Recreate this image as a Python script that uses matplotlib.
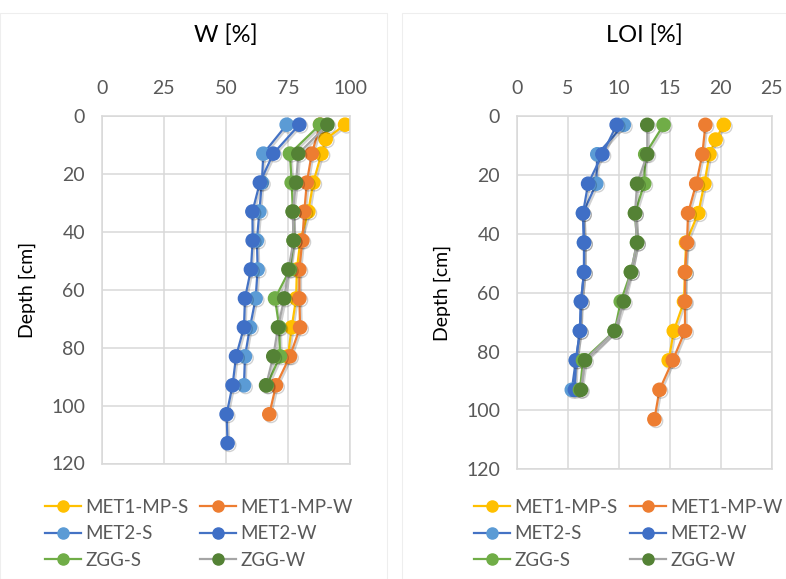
import matplotlib
matplotlib.use("Agg")
import matplotlib.pyplot as plt
from matplotlib.lines import Line2D
from matplotlib.patches import Rectangle
import matplotlib.patheffects as pe

plt.rcParams['font.family'] = ['Lato', 'DejaVu Sans']

series = ["MET1-MP-S", "MET1-MP-W", "MET2-S", "MET2-W", "ZGG-S", "ZGG-W"]
line_colors = ["#FFC000", "#ED7D31", "#4472C4", "#4472C4", "#70AD47", "#A5A5A5"]
marker_colors = ["#FFC000", "#ED7D31", "#5B9BD5", "#3F6FC6", "#70AD47", "#548235"]

# Water content W [%]
w_depth = {
    "MET1-MP-S": [3, 8, 13, 23, 33, 43, 53, 63, 73, 83],
    "MET1-MP-W": [3, 13, 23, 33, 43, 53, 63, 73, 83, 93, 103],
    "MET2-S": [3, 13, 23, 33, 43, 53, 63, 73, 83, 93],
    "MET2-W": [3, 13, 23, 33, 43, 53, 63, 73, 83, 93, 103, 113],
    "ZGG-S": [3, 13, 23, 33, 43, 53, 63, 73, 83, 93],
    "ZGG-W": [3, 13, 23, 33, 43, 53, 63, 73, 83, 93],
}
w_vals = {
    "MET1-MP-S": [98.0, 90.2, 88.5, 85.2, 83.2, 80.0, 78.6, 78.3, 76.5, 75.0],
    "MET1-MP-W": [88.0, 84.6, 82.6, 81.6, 80.8, 79.6, 79.6, 79.9, 75.8, 70.2, 67.5],
    "MET2-S": [74.5, 65.1, 64.5, 63.5, 62.5, 62.8, 62.0, 59.7, 57.7, 57.3],
    "MET2-W": [79.6, 69.1, 63.7, 60.7, 60.8, 60.1, 57.7, 57.3, 54.1, 52.7, 50.3, 50.7],
    "ZGG-S": [87.9, 75.8, 76.5, 77.0, 77.3, 75.8, 69.8, 71.5, 71.8, 66.5],
    "ZGG-W": [90.9, 79.2, 78.3, 76.9, 77.3, 75.2, 73.5, 71.0, 69.1, 66.2],
}

# Loss on ignition LOI [%]
loi_depth = {
    "MET1-MP-S": [3, 8, 13, 23, 33, 43, 53, 63, 73, 83],
    "MET1-MP-W": [3, 13, 23, 33, 43, 53, 63, 73, 83, 93, 103],
    "MET2-S": [3, 13, 23, 33, 43, 53, 63, 73, 83, 93],
    "MET2-W": [3, 13, 23, 33, 43, 53, 63, 73, 83, 93],
    "ZGG-S": [3, 13, 23, 33, 43, 53, 63, 73, 83, 93],
    "ZGG-W": [3, 13, 23, 33, 43, 53, 63, 73, 83, 93],
}
loi_vals = {
    "MET1-MP-S": [20.3, 19.5, 18.9, 18.4, 17.8, 16.6, 16.5, 16.4, 15.4, 14.9],
    "MET1-MP-W": [18.5, 18.2, 17.6, 16.8, 16.7, 16.5, 16.5, 16.5, 15.3, 14.0, 13.5],
    "MET2-S": [10.5, 7.9, 7.8, 6.5, 6.6, 6.6, 6.3, 6.2, 5.8, 5.4],
    "MET2-W": [9.8, 8.4, 7.0, 6.5, 6.6, 6.6, 6.3, 6.2, 5.8, 5.7],
    "ZGG-S": [14.4, 12.6, 12.5, 11.6, 11.8, 11.2, 10.2, 9.6, 6.5, 6.2],
    "ZGG-W": [12.8, 12.8, 11.8, 11.6, 11.8, 11.2, 10.5, 9.6, 6.7, 6.3],
}

w_ticks = [0, 25, 50, 75, 100]
loi_ticks = [0, 5, 10, 15, 20, 25]
depth_ticks = [0, 20, 40, 60, 80, 100, 120]

TXT = "#595959"
GRID = "#D9D9D9"
W, H = 786, 579

fig = plt.figure(figsize=(7.86, 5.79), dpi=100)

# faint chart borders
fig.patches.append(Rectangle((0.0, 0.0), 387 / W, 1 - 13 / H, transform=fig.transFigure,
                             fill=False, edgecolor="#EEEEEE", lw=0.8))
fig.patches.append(Rectangle((402 / W, 0.0), 1 - 402 / W, 1 - 13 / H, transform=fig.transFigure,
                             fill=False, edgecolor="#EEEEEE", lw=0.8))

ax1 = fig.add_axes([101.7 / W, 1 - 463.5 / H, 248.3 / W, 347.5 / H])
ax2 = fig.add_axes([516.7 / W, 1 - 469.3 / H, 255.0 / W, 353.3 / H])

shadow = [pe.SimpleLineShadow(offset=(1.2, -1.2), shadow_color="#000000", alpha=0.18), pe.Normal()]


def draw(ax, depth, vals, xticks, title, col_x):
    for s, lc, mc in zip(series, line_colors, marker_colors):
        ax.plot(vals[s], depth[s], color=lc, lw=1.6, marker="o", markersize=9.5,
                markerfacecolor=mc, markeredgecolor=mc, label=s, path_effects=shadow,
                solid_capstyle="round")
    ax.set_xlim(xticks[0], xticks[-1])
    ax.set_ylim(120, 0)
    ax.set_xticks(xticks)
    ax.set_yticks(depth_ticks)
    ax.xaxis.tick_top()
    ax.tick_params(length=0, labelsize=14, colors=TXT)
    ax.tick_params(axis="x", pad=14)
    ax.tick_params(axis="y", pad=12)
    ax.grid(True, color=GRID, lw=1.1)
    ax.set_axisbelow(True)
    for sp in ax.spines.values():
        sp.set_color(GRID)
        sp.set_linewidth(1.1)
    ax.set_ylabel("Depth [cm]", fontsize=14, color="#000000", labelpad=11)
    ax.set_title(title, fontsize=17, color="#000000", pad=53)

    # legend, two columns placed row-wise (row order as in the reference)
    for c in range(2):
        handles = []
        labels = []
        for r in range(3):
            i = r * 2 + c
            handles.append(Line2D([], [], color=line_colors[i], lw=1.6, marker="o",
                                  markersize=8, markerfacecolor=marker_colors[i],
                                  markeredgecolor=marker_colors[i]))
            labels.append(series[i])
        fig.legend(handles, labels, loc="upper left",
                   bbox_to_anchor=(col_x[c] / W, 1 - 499 / H),
                   frameon=False, fontsize=13.5, labelcolor=TXT, handlelength=1.9,
                   handletextpad=0.25, labelspacing=0.5, borderpad=0,
                   borderaxespad=0)


draw(ax1, w_depth, w_vals, w_ticks, "W [%]", (45, 200))
draw(ax2, loi_depth, loi_vals, loi_ticks, "LOI [%]", (474, 630))

fig.savefig("out.png", dpi=100)
